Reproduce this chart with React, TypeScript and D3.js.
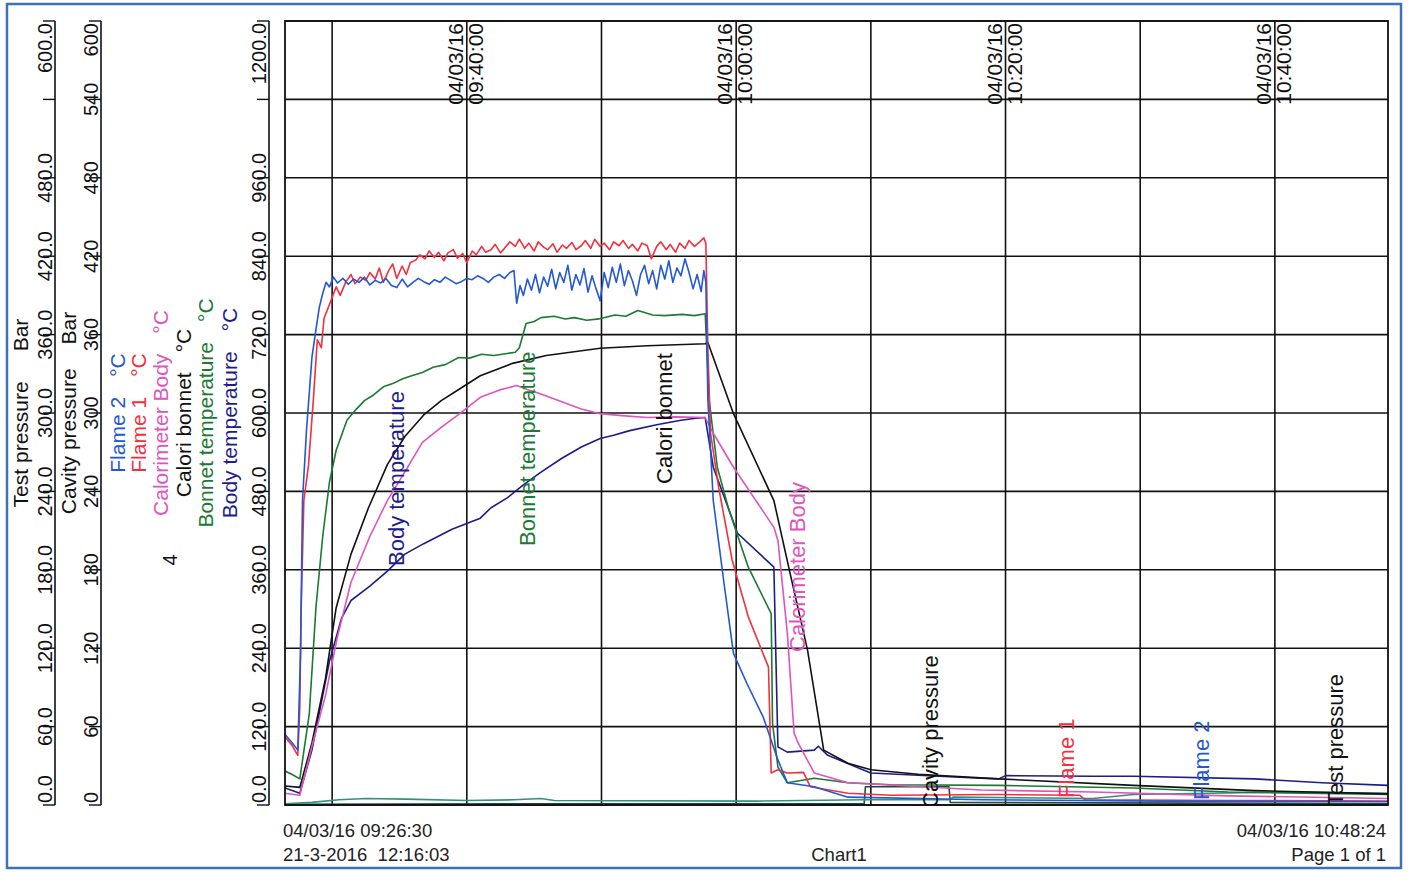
import React from 'react';
import * as d3 from 'd3';

const W = 1409;
const H = 872;
const plot = { left: 285, right: 1388, top: 21, bottom: 805 };

const START = new Date(2016, 2, 4, 9, 26, 30);
const END = new Date(2016, 2, 4, 10, 48, 24);
const PRINTED = '21-3-2016  12:16:03';
const CHART_NAME = 'Chart1';
const PAGE = 'Page 1 of 1';

type Pt = [number, number]; // [minutes after 09:26:30, value]

const flame2: Pt[] = [
  [0, 108], [0.5, 96], [0.95, 84], [1.15, 231], [1.3, 466], [1.6, 575], [2.0, 685], [2.3, 728], [2.55, 762],
  [2.8, 783], [3.05, 800], [3.3, 793], [3.6, 808], [3.9, 799], [4.3, 806], [4.7, 797], [5.1, 805], [5.5, 800],
  [5.9, 808], [6.3, 796], [6.7, 803], [7.1, 799], [7.5, 806], [7.9, 795], [8.3, 792], [8.7, 805], [9.1, 793],
  [9.5, 800], [9.9, 806], [10.3, 801], [10.7, 797], [11.1, 804], [11.5, 800], [11.9, 808], [12.3, 803],
  [12.7, 798], [13.1, 801], [13.5, 806], [13.9, 804], [14.3, 810], [14.7, 806], [15.1, 800], [15.5, 808],
  [15.9, 812], [16.3, 806], [16.7, 815], [17.0, 818], [17.2, 768], [17.45, 795], [17.7, 780], [18.0, 805],
  [18.3, 788], [18.6, 812], [18.9, 784], [19.2, 808], [19.5, 794], [19.8, 820], [20.1, 790], [20.4, 815],
  [20.7, 800], [21.0, 826], [21.3, 788], [21.6, 812], [21.9, 796], [22.2, 821], [22.5, 785], [22.8, 810],
  [23.1, 790], [23.4, 772], [23.7, 815], [24.0, 792], [24.3, 823], [24.6, 800], [24.9, 828], [25.2, 795],
  [25.5, 818], [25.8, 802], [26.1, 780], [26.4, 812], [26.7, 826], [27.0, 798], [27.3, 818], [27.6, 790],
  [27.9, 826], [28.2, 805], [28.5, 833], [28.8, 800], [29.1, 822], [29.4, 810], [29.7, 836], [30.0, 815],
  [30.3, 790], [30.6, 812], [30.9, 786], [31.1, 818], [31.25, 800], [31.4, 620], [31.6, 543], [31.8, 466],
  [32.6, 339], [33.3, 232], [34.3, 186], [35.5, 135], [36.6, 69], [37.3, 34], [39.3, 28], [41.8, 12],
  [51.7, 8], [65, 6], [81.9, 5],
];

const flame1: Pt[] = [
  [0, 104], [0.5, 92], [0.95, 76], [1.1, 150], [1.2, 300], [1.4, 466], [1.75, 521], [2.1, 619], [2.4, 712],
  [2.7, 700], [2.9, 745], [3.3, 766], [3.8, 793], [4.1, 780], [4.5, 800], [4.9, 812], [5.2, 798], [5.6, 808],
  [6.0, 803], [6.3, 815], [6.7, 805], [7.0, 822], [7.3, 800], [7.7, 818], [8.0, 828], [8.3, 806], [8.7, 825],
  [9.0, 812], [9.3, 830], [9.7, 834], [10.0, 842], [10.4, 836], [10.7, 848], [11.1, 838], [11.4, 846],
  [11.8, 833], [12.1, 845], [12.5, 850], [12.8, 837], [13.2, 844], [13.5, 830], [13.9, 848], [14.2, 842],
  [14.6, 855], [14.9, 846], [15.3, 850], [15.6, 858], [16.0, 845], [16.3, 852], [16.7, 862], [17.1, 855],
  [17.4, 866], [17.8, 852], [18.1, 860], [18.5, 848], [18.8, 862], [19.2, 854], [19.5, 850], [19.9, 859],
  [20.2, 846], [20.6, 857], [20.9, 852], [21.3, 861], [21.6, 850], [22.0, 856], [22.3, 864], [22.7, 852],
  [23.0, 866], [23.4, 855], [23.7, 860], [24.1, 850], [24.4, 862], [24.8, 856], [25.1, 864], [25.5, 852],
  [25.8, 858], [26.2, 848], [26.5, 860], [26.9, 856], [27.2, 836], [27.6, 855], [27.9, 862], [28.3, 850],
  [28.6, 858], [29.0, 846], [29.3, 860], [29.7, 852], [30.0, 864], [30.4, 855], [30.8, 862], [31.1, 868],
  [31.25, 860], [31.4, 696], [31.6, 569], [32.2, 486], [33.2, 375], [34.4, 288], [35.9, 211], [36.1, 49],
  [36.6, 54], [37.3, 49], [38.5, 50], [39.0, 28], [41.8, 18], [45, 15], [53, 16], [59, 15], [59.4, 8],
  [70, 7], [81.9, 6],
];

const calorimeterBody: Pt[] = [
  [0, 18], [1.1, 15], [2.0, 90], [3.0, 167], [3.9, 258], [4.9, 341], [6.3, 411], [7.6, 466], [8.9, 510],
  [10.2, 555], [11.6, 578], [12.9, 598], [14.5, 624], [15.9, 635], [17.2, 642], [18.0, 636], [18.9, 630],
  [20.7, 616], [22.0, 606], [23.4, 599], [25.0, 596], [26.9, 593], [29.0, 594], [31.2, 593], [31.8, 569],
  [33.3, 517], [36.3, 425], [36.6, 405], [37.3, 263], [37.8, 110], [38.1, 95], [39.3, 49], [41.8, 34],
  [51.7, 23], [60, 20], [70, 14], [81.9, 10],
];

const caloriBonnet: Pt[] = [
  [0, 29], [1.1, 27], [2.0, 95], [3.0, 193], [3.8, 302], [4.9, 384], [6.2, 455], [7.6, 521], [8.9, 564],
  [10.3, 597], [11.6, 619], [12.9, 636], [14.5, 657], [16.9, 676], [19.4, 688], [23.4, 699], [26.9, 703],
  [31.2, 706], [31.4, 708], [33.3, 599], [36.3, 466], [37.5, 355], [38.8, 237], [40.0, 84], [41.8, 64],
  [43.5, 54], [47, 47], [53, 40], [63, 30], [72, 22], [81.9, 17],
];

const bonnetTemp: Pt[] = [
  [0, 52], [0.5, 47], [1.1, 40], [1.8, 139], [2.3, 303], [2.8, 411], [3.3, 494], [3.8, 543], [4.6, 589],
  [5.3, 606], [5.9, 619], [6.6, 628], [7.3, 640], [8.0, 645], [8.7, 652], [9.4, 657], [10.2, 662], [11.0, 670],
  [11.9, 674], [12.9, 685], [13.7, 684], [14.6, 690], [15.5, 688], [16.5, 691], [17.1, 693], [17.4, 700],
  [17.9, 737], [18.5, 740], [19.0, 746], [20.0, 748], [20.8, 744], [21.5, 746], [22.4, 742], [23.3, 744],
  [24.5, 750], [25.3, 748], [26.2, 757], [27.3, 750], [28.2, 749], [29.5, 751], [30.4, 749], [31.2, 752],
  [31.5, 619], [32.1, 517], [32.9, 456], [34.4, 364], [36.1, 293], [36.2, 125], [36.6, 58], [37.3, 34],
  [39.3, 41], [41.8, 34], [45, 31], [53, 30], [63, 26], [70, 20], [81.9, 16],
];

const bodyTemp: Pt[] = [
  [0, 26], [1.1, 18], [2.0, 84], [3.3, 220], [4.2, 286], [4.9, 313], [6.3, 335], [7.6, 358], [8.9, 384],
  [10.3, 400], [12.4, 422], [14.5, 439], [15.3, 455], [16.5, 470], [17.7, 490], [18.9, 508], [20.5, 530],
  [22.0, 548], [23.4, 561], [24.4, 566], [25.6, 573], [27.6, 582], [29.4, 589], [30.5, 592], [31.2, 593],
  [31.8, 517], [33.6, 416], [36.3, 364], [36.6, 89], [37.3, 81], [39.3, 84], [39.6, 90], [40.3, 76],
  [43.5, 49], [51.7, 41], [53.0, 40], [53.5, 45], [60, 44], [63, 44], [72, 40], [77, 34], [81.9, 30],
];

const testPressure: Pt[] = [
  [0, 1], [2, 2], [4, 4], [6, 5], [9, 4.5], [13.5, 3.5], [17, 4], [19, 5], [20, 3.5], [35, 3], [43, 4],
  [49.4, 4], [49.6, 6], [60, 5], [63, 8], [75, 10], [81.9, 9],
];

const cavityPressure: Pt[] = [
  [0, 0.5], [20, 1], [43, 1], [43.1, 14], [49.3, 14], [49.4, 2], [81.9, 1],
];

const tempTicks = d3.range(0, 1201, 120);
const pressTicks = d3.range(0, 601, 60);
const hiddenTemp = [1080];
const hiddenTest = [540];

interface Series {
  name: string;
  unit: string;
  color: string;
  data: Pt[];
  kind: 'temp' | 'press';
}

const series: Series[] = [
  { name: 'Cavity pressure', unit: 'Bar', color: '#1f4a3a', data: cavityPressure, kind: 'press' },
  { name: 'Test pressure', unit: 'Bar', color: '#2f927f', data: testPressure, kind: 'press' },
  { name: 'Body temperature', unit: '°C', color: '#1c1c8a', data: bodyTemp, kind: 'temp' },
  { name: 'Bonnet temperature', unit: '°C', color: '#1b7a32', data: bonnetTemp, kind: 'temp' },
  { name: 'Calori bonnet', unit: '°C', color: '#111111', data: caloriBonnet, kind: 'temp' },
  { name: 'Calorimeter Body', unit: '°C', color: '#dd55bd', data: calorimeterBody, kind: 'temp' },
  { name: 'Flame 1', unit: '°C', color: '#f2303e', data: flame1, kind: 'temp' },
  { name: 'Flame 2', unit: '°C', color: '#2457d4', data: flame2, kind: 'temp' },
];

// legend column on the left, [name, baseline x]
const legendCols: [string, number][] = [
  ['Flame 2', 125], ['Flame 1', 146], ['Calorimeter Body', 168],
  ['Calori bonnet', 191], ['Bonnet temperature', 213], ['Body temperature', 237],
];

// in-plot series labels: [name, baseline x, start y (bottom)]
const plotLabels: [string, number, number][] = [
  ['Body temperature', 404, 566], ['Bonnet temperature', 535, 546], ['Calori bonnet', 672, 484],
  ['Calorimeter Body', 805, 652], ['Cavity pressure', 938, 808], ['Flame 1', 1074, 798],
  ['Flame 2', 1209, 800], ['Test pressure', 1343, 806],
];

const FONT = '"Liberation Sans", Arial, sans-serif';

const at = (m: number) => new Date(START.getTime() + m * 60000);

const VText: React.FC<{ x: number; y: number; anchor?: string; size: number; fill?: string; children: React.ReactNode }> =
  ({ x, y, anchor = 'start', size, fill = '#111', children }) => (
    <text transform={`translate(${x},${y}) rotate(-90)`} textAnchor={anchor} fontSize={size} fill={fill}>
      {children}
    </text>
  );

const App: React.FC = () => {
  const x = d3.scaleTime().domain([START, END]).range([plot.left, plot.right]);
  const yTemp = d3.scaleLinear().domain([0, 1200]).range([plot.bottom, plot.top]);
  const yPress = d3.scaleLinear().domain([0, 600]).range([plot.bottom, plot.top]);

  const gridTimes = x.ticks(d3.timeMinute.every(10)!);
  const labelTimes = x.ticks(d3.timeMinute.every(20)!);
  const fmtDate = d3.timeFormat('%d/%m/%y');
  const fmtTime = d3.timeFormat('%H:%M:%S');
  const fmtFull = d3.timeFormat('%d/%m/%y %H:%M:%S');

  const colorOf = (n: string) => series.find(s => s.name === n)!.color;

  const tickLabel = (v: number, max: number, yv: number, bx: number, text: string, key: string) => {
    const anchor = v === 0 ? 'start' : v === max ? 'end' : 'middle';
    const yy = v === 0 ? yv - 2 : v === max ? yv + 2 : yv;
    return <VText key={key} x={bx} y={yy} anchor={anchor} size={20}>{text}</VText>;
  };

  const axis = (ax: number, ticks: number[], scale: d3.ScaleLinear<number, number>, max: number,
    fmt: (v: number) => string, hidden: number[], id: string) => (
    <g key={id}>
      <line x1={ax} x2={ax} y1={plot.top} y2={plot.bottom} stroke="#111" strokeWidth={1.6} />
      {ticks.map(v => (
        <line key={v} x1={ax - 12} x2={ax} y1={scale(v)} y2={scale(v)} stroke="#111" strokeWidth={1.4} />
      ))}
      {ticks.filter(v => !hidden.includes(v)).map(v =>
        tickLabel(v, max, scale(v), ax - 3, fmt(v), `${id}${v}`))}
    </g>
  );

  return (
    <div style={{ position: 'fixed', left: 0, top: 0, background: '#fff' }}>
      <svg width={W} height={H} style={{ display: 'block', fontFamily: FONT }}>
        <rect x={0} y={0} width={W} height={H} fill="#fff" />
        <defs>
          <clipPath id="plotClip">
            <rect x={plot.left} y={plot.top} width={plot.right - plot.left} height={plot.bottom - plot.top} />
          </clipPath>
        </defs>

        {/* left axes */}
        {axis(55, pressTicks, yPress, 600, d3.format('.1f'), hiddenTest, 'tp')}
        {axis(101, pressTicks, yPress, 600, d3.format('d'), [], 'cp')}
        {axis(269, tempTicks, yTemp, 1200, d3.format('.1f'), hiddenTemp, 'tt')}

        {/* axis titles and legend */}
        <g>
          <VText x={28} y={413} anchor="middle" size={21}>Test pressure<tspan dx={30}>Bar</tspan></VText>
          <VText x={76} y={413} anchor="middle" size={21}>Cavity pressure<tspan dx={24}>Bar</tspan></VText>
          {legendCols.map(([n, bx]) => (
            <VText key={n} x={bx} y={413} anchor="middle" size={21} fill={colorOf(n)}>
              {n}<tspan dx={20}>°C</tspan>
            </VText>
          ))}
          <VText x={177} y={560} anchor="middle" size={20}>4</VText>
        </g>

        {/* grid */}
        <g stroke="#111" strokeWidth={1.6}>
          {tempTicks.map(v => (
            <line key={v} x1={plot.left} x2={plot.right} y1={yTemp(v)} y2={yTemp(v)} />
          ))}
          {gridTimes.map(t => (
            <line key={+t} x1={x(t)} x2={x(t)} y1={plot.top} y2={plot.bottom} />
          ))}
        </g>

        {/* time labels */}
        {labelTimes.map(t => (
          <g key={+t}>
            <VText x={x(t) - 4} y={23} anchor="end" size={21}>{fmtDate(t)}</VText>
            <VText x={x(t) + 16} y={23} anchor="end" size={21}>{fmtTime(t)}</VText>
          </g>
        ))}

        {/* series */}
        <g clipPath="url(#plotClip)" fill="none" strokeWidth={1.6} strokeLinejoin="round">
          {series.map(s => {
            const ys = s.kind === 'temp' ? yTemp : yPress;
            const line = d3.line<Pt>().x(d => x(at(d[0]))).y(d => ys(d[1]));
            return <path key={s.name} d={line(s.data) ?? ''} stroke={s.color} />;
          })}
        </g>

        <g clipPath="url(#plotClip)">
          {plotLabels.map(([n, bx, by]) => {
            const s = series.find(q => q.name === n)!;
            const fill = s.kind === 'press' ? '#111' : s.color;
            return <VText key={n} x={bx} y={by} anchor="start" size={22} fill={fill}>{n}</VText>;
          })}
        </g>

        <rect x={plot.left} y={plot.top} width={plot.right - plot.left} height={plot.bottom - plot.top}
          fill="none" stroke="#111" strokeWidth={1.8} />

        {/* footer */}
        <g fontSize={18.5} fill="#222">
          <text x={283} y={837}>{fmtFull(START)}</text>
          <text x={283} y={861} style={{ whiteSpace: 'pre' }}>{PRINTED}</text>
          <text x={839} y={861} textAnchor="middle">{CHART_NAME}</text>
          <text x={1386} y={837} textAnchor="end">{fmtFull(END)}</text>
          <text x={1386} y={861} textAnchor="end">{PAGE}</text>
        </g>

        <rect x={7} y={4} width={1394} height={864} fill="none" stroke="#3d72bb" strokeWidth={2.5} />
      </svg>
    </div>
  );
};

export default App;
